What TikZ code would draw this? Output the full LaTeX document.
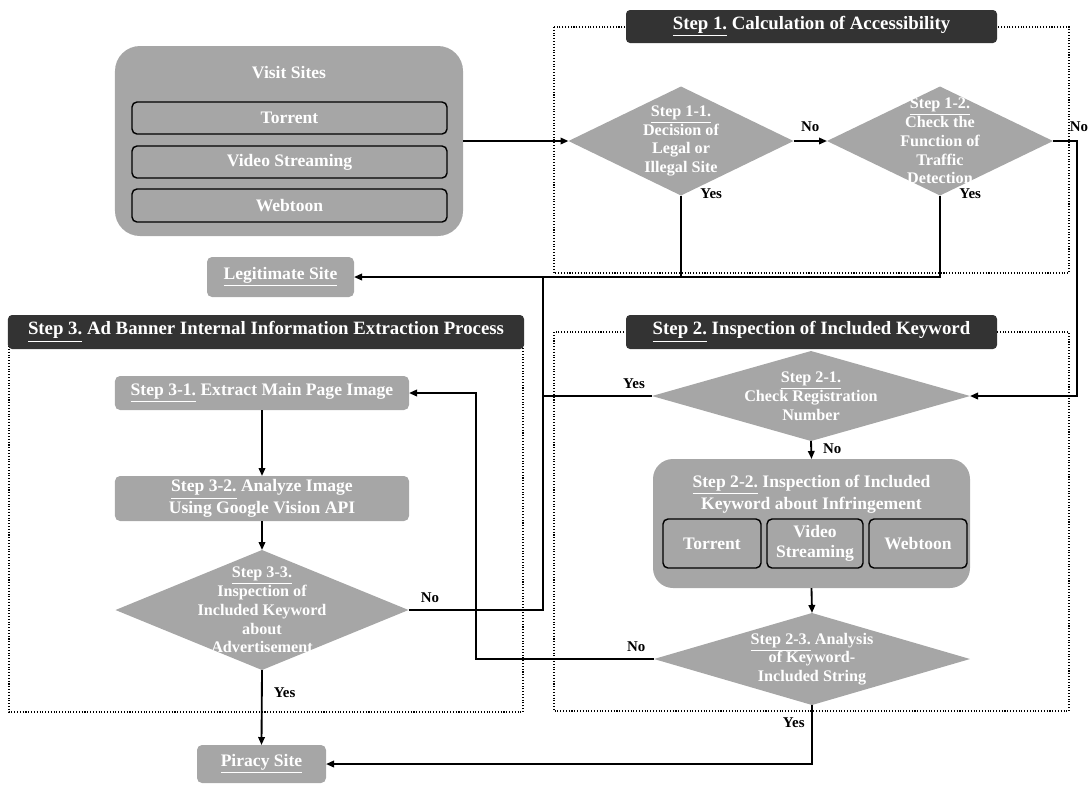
\documentclass[tikz,border=0pt]{standalone}
\usepackage{fontspec}
\setmainfont{Liberation Serif}
\usetikzlibrary{shapes.geometric,arrows.meta}
\definecolor{boxgray}{HTML}{A6A6A6}
\definecolor{headgray}{HTML}{333333}
\begin{document}
\begin{tikzpicture}[x=0.2mm,y=-0.2mm,
    grybox/.style={fill=boxgray,rounded corners=1mm,inner sep=0pt,outer sep=0pt,
      text=white,align=center,font=\bfseries\fontsize{10}{12.5}\selectfont},
    sitebox/.style={grybox,draw=black,line width=0.8pt,minimum width=63mm},
    keybox/.style={grybox,draw=black,line width=0.8pt,minimum height=9.8mm,
      font=\bfseries\fontsize{10}{11.5}\selectfont},
    titlebox/.style={grybox,fill=headgray,rounded corners=0.8mm,
      font=\bfseries\fontsize{10.7}{13}\selectfont},
    dia/.style={diamond,fill=boxgray,inner sep=0pt,outer sep=0pt},
    dtxt/.style={text=white,align=center,inner sep=0pt,
      font=\bfseries\fontsize{9.2}{10.7}\selectfont},
    frame/.style={densely dotted,line width=0.6pt},
    lbl/.style={font=\bfseries\fontsize{8.5}{10}\selectfont,inner sep=2pt},
    ln/.style={line width=1.05pt},
    arr/.style={ln,-{Triangle[length=1.6mm,width=1.3mm]}}]
  \useasboundingbox (0,0) rectangle (1088,784);

  % frames of the three steps
  \draw[frame] (554,27) rectangle (1069,273);
  \draw[frame] (554,332) rectangle (1069,711);
  \draw[frame] (9,332) rectangle (523,712);

  \node[titlebox,minimum width=74.2mm,minimum height=6.6mm] (t1) at (811.5,26.5)
    {\underline{Step 1.} Calculation of Accessibility};
  \node[titlebox,minimum width=74.2mm,minimum height=6.8mm] (t2) at (811.5,332)
    {\underline{Step 2.} Inspection of Included Keyword};
  \node[titlebox,minimum width=103.2mm,minimum height=6.8mm] (t3) at (266,332)
    {\underline{Step 3.} Ad Banner Internal Information Extraction Process};

  % visited sites
  \node[grybox,rounded corners=5mm,minimum width=69.6mm,minimum height=38mm] (visit) at (289,141) {};
  \node[grybox] (visitlbl) at (289,73) {Visit Sites};
  \node[sitebox,minimum height=6.4mm] (vtor) at (289.5,118) {Torrent};
  \node[sitebox,minimum height=6.4mm] (vvid) at (289.5,162) {Video Streaming};
  \node[sitebox,minimum height=6.6mm] (vweb) at (289.5,205.5) {Webtoon};

  % step 1
  \node[dia,minimum width=45mm,minimum height=21.8mm,
    label={[dtxt]center:{\underline{Step 1-1.}\\Decision of\\Legal or\\Illegal Site}}] (d11) at (681,141) {};
  \node[dia,minimum width=45.2mm,minimum height=21.8mm,
    label={[dtxt]center:{\underline{Step 1-2.}\\Check the\\Function of\\Traffic\\Detection}}] (d12) at (940,141) {};

  % results
  \node[grybox,minimum width=29.4mm,minimum height=8mm] (legit) at (280.5,277) {\underline{Legitimate Site}};
  \node[grybox,minimum width=25.8mm,minimum height=7.6mm] (piracy) at (261.5,764) {\underline{Piracy Site}};

  % step 2
  \node[dia,minimum width=63.6mm,minimum height=18mm,
    label={[dtxt]center:{\underline{Step 2-1.}\\Check Registration\\Number}}] (d21) at (811,396) {};
  \node[grybox,rounded corners=4mm,minimum width=63.4mm,minimum height=25.8mm] (s22) at (811.5,523.5) {};
  \node[grybox] (s22lbl) at (811.5,494) {\underline{Step 2-2.} Inspection of Included\\Keyword about Infringement};
  \node[keybox,minimum width=19.6mm] (kt) at (712,543.5) {Torrent};
  \node[keybox,minimum width=19.2mm] (kv) at (815,543.5) {Video\\Streaming};
  \node[keybox,minimum width=19.6mm] (kw) at (918,543.5) {Webtoon};
  \node[dia,minimum width=63.2mm,minimum height=18.4mm,
    label={[dtxt]center:{\underline{Step 2-3.} Analysis\\of Keyword-\\Included String}}] (d23) at (812,659) {};

  % step 3
  \node[grybox,minimum width=58.8mm,minimum height=6.8mm] (s31) at (262,393) {\underline{Step 3-1.} Extract Main Page Image};
  \node[grybox,minimum width=58.8mm,minimum height=9mm] (s32) at (262,498.5) {\underline{Step 3-2.} Analyze Image\\Using Google Vision API};
  \node[dia,minimum width=58.6mm,minimum height=24mm,
    label={[dtxt]center:{\underline{Step 3-3.}\\Inspection of\\Included Keyword\\about\\Advertisement}}] (d33) at (262,610) {};

  \coordinate (j1) at (543,277);
  \coordinate (r1) at (1077,141);
  \coordinate (l1) at (476,659);

  \draw[arr] (visit.east) -- (d11.west);
  \draw[arr] (d11.east) -- node[lbl,pos=0.5,above,yshift=1mm]{No} (d12.west);
  \draw[ln] (d11.south) -- node[lbl,pos=0,anchor=west,xshift=3mm,yshift=0.4mm]{Yes} (d11.south |- legit.east);
  \draw[arr] (d12.south) |- node[lbl,pos=0,anchor=west,xshift=3mm,yshift=0.4mm]{Yes} (legit.east);
  \draw[arr] (d12.east) -- node[lbl,pos=1,above,xshift=0.4mm,yshift=1mm]{No} (r1) |- (d21.east);
  \draw[ln] (d21.west) -- node[lbl,pos=0.165,above,yshift=0.6mm]{Yes} (d21.west -| j1) -- (j1);
  \draw[arr] (d21.south) -- node[lbl,pos=0.4,right,xshift=1.5mm]{No} (s22.north);
  \draw[arr] (s22.south) -- (d23.north);
  \draw[arr] (d23.west) -- node[lbl,pos=0.1,above,yshift=0.5mm]{No} (l1) |- (s31.east);
  \draw[arr] (d23.south) |- node[lbl,pos=0.15,left,xshift=-0.6mm]{Yes} (piracy.east);
  \draw[arr] (s31.south) -- (s32.north);
  \draw[arr] (s32.south) -- (d33.north);
  \draw[ln] (d33.east) -- node[lbl,pos=0.16,above,yshift=0.5mm]{No} (d33.east -| j1) -- (j1);
  \draw[arr] (d33.south) -- node[lbl,pos=0.3,right,xshift=1.5mm]{Yes} (piracy.north);
\end{tikzpicture}
\end{document}
